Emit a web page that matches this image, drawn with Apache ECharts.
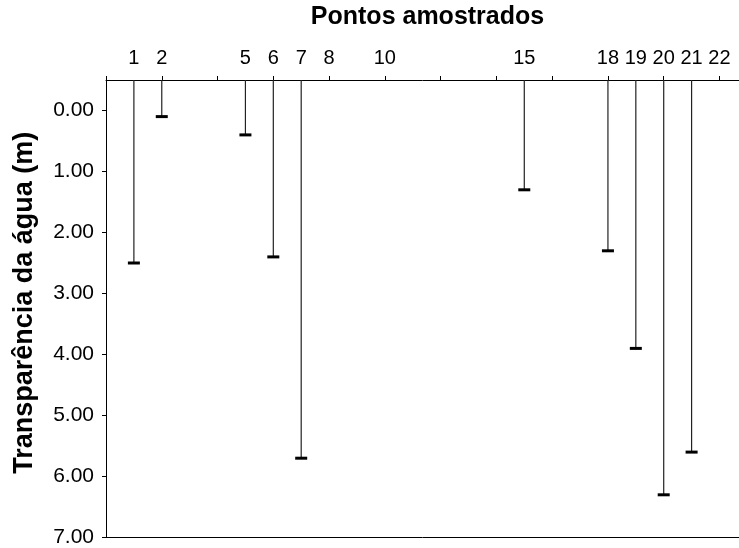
<!DOCTYPE html>
<html>
<head>
<meta charset="utf-8">
<script src="https://cdn.jsdelivr.net/npm/echarts@6/dist/echarts.min.js"></script>
<style>
  html, body { margin: 0; padding: 0; background: #fff; }
  #chart { width: 739px; height: 548px; }
</style>
</head>
<body>
<div id="chart"></div>
<script>
// Sampling points (x) and water transparency depth in metres (y)
const points = [1, 2, 5, 6, 7, 15, 18, 19, 20, 21];
const transparency = [2.5, 0.1, 0.4, 2.4, 5.7, 1.3, 2.3, 3.9, 6.3, 5.6];

// Axis tick labels
const xLabelValues = [1, 2, 5, 6, 7, 8, 10, 15, 18, 19, 20, 21, 22];
const xTickValues = [0, 2, 4, 6, 8, 10, 12, 14, 16, 18, 20, 22];
const yLabelValues = [0, 1, 2, 3, 4, 5, 6, 7];

// The x axis runs past the right edge of the page
const X_MIN = 0, X_MAX = 22.7;
const Y_MIN = -0.5, Y_MAX = 7;

const FONT = '"Liberation Sans", Arial, sans-serif';

const chart = echarts.init(document.getElementById('chart'), null, { renderer: 'canvas' });

chart.setOption({
  animation: false,
  backgroundColor: '#ffffff',
  grid: { left: 106, top: 77, bottom: 8, right: 0, containLabel: false },
  xAxis: [{
    type: 'value',
    position: 'top',
    min: X_MIN,
    max: X_MAX,
    name: 'Pontos amostrados',
    nameLocation: 'middle',
    nameGap: 50,
    nameTextStyle: { fontFamily: FONT, fontSize: 25, fontWeight: 'bold', color: '#000', padding: [0, 0, 0, 10] },
    axisLine: { show: true, onZero: false, lineStyle: { color: '#000', width: 1 } },
    axisTick: { show: true, length: 4, lineStyle: { color: '#000' }, customValues: xTickValues },
    axisLabel: {
      show: true, margin: 12, fontFamily: FONT, fontSize: 20, color: '#000',
      customValues: xLabelValues, hideOverlap: false
    },
    splitLine: { show: false }
  }, {
    type: 'value',
    position: 'bottom',
    min: X_MIN,
    max: X_MAX,
    axisLine: { show: true, onZero: false, lineStyle: { color: '#000', width: 1 } },
    axisTick: { show: false },
    axisLabel: { show: false },
    splitLine: { show: false }
  }],
  yAxis: {
    type: 'value',
    inverse: true,
    min: Y_MIN,
    max: Y_MAX,
    name: 'Transparência da água (m)',
    nameLocation: 'middle',
    nameGap: 68,
    nameRotate: 90,
    nameTextStyle: { fontFamily: FONT, fontSize: 27, fontWeight: 'bold', color: '#000', padding: [0, 0, 0, 12] },
    axisLine: { show: true, onZero: false, lineStyle: { color: '#000', width: 1 } },
    axisTick: { show: true, length: 4, lineStyle: { color: '#000' }, customValues: yLabelValues },
    axisLabel: {
      show: true, margin: 12, fontFamily: FONT, fontSize: 21, color: '#000',
      customValues: yLabelValues,
      formatter: v => v.toFixed(2)
    },
    splitLine: { show: false }
  },
  series: [{
    type: 'custom',
    xAxisIndex: 0,
    data: points.map((p, i) => [p, transparency[i]]),
    renderItem(params, api) {
      const x = api.value(0);
      const v = api.value(1);
      const start = api.coord([x, Y_MIN]);
      const end = api.coord([x, v]);
      return {
        type: 'group',
        children: [
          {
            type: 'line',
            shape: { x1: start[0], y1: start[1], x2: end[0], y2: end[1] },
            style: { stroke: '#222', lineWidth: 1.2 }
          },
          {
            type: 'line',
            shape: { x1: end[0] - 6, y1: end[1], x2: end[0] + 6, y2: end[1] },
            style: { stroke: '#000', lineWidth: 3 }
          }
        ]
      };
    }
  }]
});
</script>
</body>
</html>
